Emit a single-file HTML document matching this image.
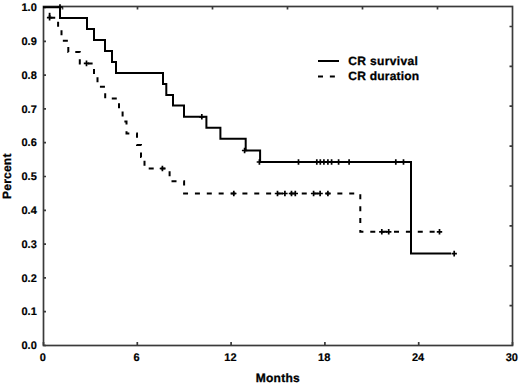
<!DOCTYPE html>
<html><head><meta charset="utf-8"><style>
html,body{margin:0;padding:0;background:#fff;}
body{width:520px;height:385px;overflow:hidden;}
svg{display:block;text-rendering:geometricPrecision;}
.t{font-family:"Liberation Sans",sans-serif;font-weight:bold;font-size:11px;fill:#000;stroke:#000;stroke-width:0.2px;}
.l{font-family:"Liberation Sans",sans-serif;font-weight:bold;font-size:12px;fill:#000;stroke:#000;stroke-width:0.3px;}
</style></head><body>
<svg width="520" height="385" viewBox="0 0 520 385">
<rect x="43.5" y="6.5" width="469" height="339" fill="none" stroke="#3a3a3a" stroke-width="1.7"/>
<path d="M43.5 345.5H46M43.5 311.7H46M43.5 277.9H46M43.5 244.1H46M43.5 210.3H46M43.5 176.5H46M43.5 142.7H46M43.5 108.9H46M43.5 75.1H46M43.5 41.3H46M43.5 7.5H46M43.5 345.5V342M137.3 345.5V342M231.1 345.5V342M324.9 345.5V342M418.7 345.5V342M512.5 345.5V342M62.5 6.5V9.5M137.5 6.5V9.5M212.5 6.5V9.5M287.5 6.5V9.5M362.5 6.5V9.5M437.5 6.5V9.5M512.5 26.5H509.5M512.5 66.4H509.5M512.5 106.2H509.5M512.5 146.1H509.5M512.5 186.0H509.5M512.5 225.9H509.5M512.5 265.8H509.5M512.5 305.6H509.5" stroke="#3a3a3a" stroke-width="1.7" fill="none"/>
<text x="36.8" y="349.1" text-anchor="end" class="t">0.0</text>
<text x="36.8" y="315.3" text-anchor="end" class="t">0.1</text>
<text x="36.8" y="281.5" text-anchor="end" class="t">0.2</text>
<text x="36.8" y="247.7" text-anchor="end" class="t">0.3</text>
<text x="36.8" y="213.9" text-anchor="end" class="t">0.4</text>
<text x="36.8" y="180.1" text-anchor="end" class="t">0.5</text>
<text x="36.8" y="146.3" text-anchor="end" class="t">0.6</text>
<text x="36.8" y="112.5" text-anchor="end" class="t">0.7</text>
<text x="36.8" y="78.7" text-anchor="end" class="t">0.8</text>
<text x="36.8" y="44.9" text-anchor="end" class="t">0.9</text>
<text x="36.8" y="11.1" text-anchor="end" class="t">1.0</text>
<text x="42.8" y="361" text-anchor="middle" class="t">0</text>
<text x="136.6" y="361" text-anchor="middle" class="t">6</text>
<text x="230.4" y="361" text-anchor="middle" class="t">12</text>
<text x="324.2" y="361" text-anchor="middle" class="t">18</text>
<text x="418.0" y="361" text-anchor="middle" class="t">24</text>
<text x="511.8" y="361" text-anchor="middle" class="t">30</text>
<text x="255.7" y="382.4" class="l" textLength="44.1" lengthAdjust="spacing">Months</text>
<text transform="translate(11.0 198.9) rotate(-90)" class="l" textLength="45.3" lengthAdjust="spacing">Percent</text>
<path d="M43.0 7.2 L60.0 7.2 L60.0 18.0 L87.0 18.0 L87.0 29.0 L94.0 29.0 L94.0 40.0 L105.0 40.0 L105.0 51.0 L112.0 51.0 L112.0 62.0 L116.0 62.0 L116.0 73.0 L163.0 73.0 L163.0 84.0 L166.3 84.0 L166.3 95.0 L173.0 95.0 L173.0 105.5 L184.0 105.5 L184.0 116.8 L206.4 116.8 L206.4 127.8 L220.4 127.8 L220.4 138.7 L245.7 138.7 L245.7 150.5 L260.1 150.5 L260.1 162.0 L411.0 162.0 L411.0 253.6 L451.0 253.6" stroke="#000" stroke-width="2" fill="none" stroke-linejoin="miter"/>
<path d="M57.3 7.0h5.4M60.0 4.2v5.6M199.1 116.8h5.4M201.8 114.0v5.6M241.9 150.5h5.4M244.6 147.7v5.6M256.7 162.0h5.4M259.4 159.2v5.6M295.8 162.0h5.4M298.5 159.2v5.6M314.1 162.0h5.4M316.8 159.2v5.6M317.6 162.0h5.4M320.3 159.2v5.6M321.2 162.0h5.4M323.9 159.2v5.6M325.2 162.0h5.4M327.9 159.2v5.6M328.9 162.0h5.4M331.6 159.2v5.6M335.9 162.0h5.4M338.6 159.2v5.6M346.4 162.0h5.4M349.1 159.2v5.6M393.1 162.0h5.4M395.8 159.2v5.6M400.8 162.0h5.4M403.5 159.2v5.6M451.5 253.6h5.4M454.2 250.8v5.6" stroke="#000" stroke-width="1.7" fill="none"/>
<path d="M49.6 17.7 L58.1 17.7 L58.1 29.2 L61.5 29.2 L61.5 40.7 L68.3 40.7 L68.3 52.0 L79.8 52.0 L79.8 63.4 L94.0 63.4 L94.0 75.0 L97.5 75.0 L97.5 86.7 L105.2 86.7 L105.2 98.6 L119.0 98.6 L119.0 110.0 L122.6 110.0 L122.6 121.6 L126.5 121.6 L126.5 133.5 L137.0 133.5 L137.0 145.0 L141.0 145.0 L141.0 157.0 L144.5 157.0 L144.5 168.5 L169.6 168.5 L169.6 181.3 L184.1 181.3 L184.1 193.5 L360.3 193.5 L360.3 231.8 L440.0 231.8" stroke="#000" stroke-width="2" fill="none" stroke-dasharray="5.00 6.87" stroke-dashoffset="11.24"/>
<path d="M46.9 17.7h5.4M49.6 14.9v5.6M83.8 63.4h5.4M86.5 60.6v5.6M159.7 168.5h5.4M162.4 165.7v5.6M231.1 193.5h5.4M233.8 190.7v5.6M274.8 193.5h5.4M277.5 190.7v5.6M282.2 193.5h5.4M284.9 190.7v5.6M288.8 193.5h5.4M291.5 190.7v5.6M292.6 193.5h5.4M295.3 190.7v5.6M310.9 193.5h5.4M313.6 190.7v5.6M317.4 193.5h5.4M320.1 190.7v5.6M325.2 193.5h5.4M327.9 190.7v5.6M379.1 231.8h5.4M381.8 229.0v5.6M386.0 231.8h5.4M388.7 229.0v5.6M436.8 231.8h5.4M439.5 229.0v5.6" stroke="#000" stroke-width="1.7" fill="none"/>
<path d="M49.6 12.8V17.7" stroke="#000" stroke-width="1.8" fill="none"/>
<path d="M318 61H339" stroke="#000" stroke-width="2"/>
<path d="M318 76.5H339" stroke="#000" stroke-width="2" stroke-dasharray="5 6.87" stroke-dashoffset="0"/>
<text x="348.3" y="64.9" class="l" textLength="69.6" lengthAdjust="spacing">CR survival</text>
<text x="348.3" y="79.9" class="l" textLength="70.9" lengthAdjust="spacing">CR duration</text>
</svg>
</body></html>
